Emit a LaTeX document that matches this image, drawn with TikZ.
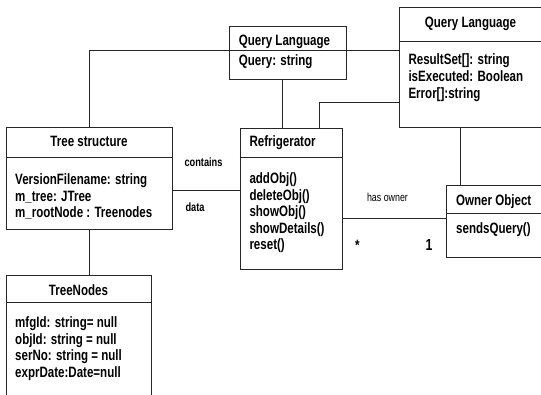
\documentclass[tikz,border=0pt]{standalone}
\usepackage{fontspec}
\setmainfont{Liberation Sans}[FakeStretch=0.77]
\usepackage{tikz}

\begin{document}
\begin{tikzpicture}[x=1pt,y=-1pt,
  umlbox/.style={draw=black!85,line width=0.9pt,rectangle,inner sep=0pt},
  umltext/.style={inner sep=0pt,font=\fontsize{15}{16.5}\selectfont\bfseries},
  umllist/.style={umltext,align=left,anchor=north west},
  linklabel/.style={inner sep=0pt,font=\fontsize{12}{14}\selectfont\bfseries},
  link/.style={draw=black!85,line width=0.9pt}]
\fill[white] (0,0) rectangle (541,394);
\useasboundingbox (0,0) rectangle (541,394);

% Class boxes
\node[umlbox,minimum width=142.7pt,minimum height=120.4pt] (qres) at (470.65,67.5) {};
\node[umlbox,minimum width=116.7pt,minimum height=52.6pt] (qmid) at (287.65,53) {};
\node[umlbox,minimum width=166.3pt,minimum height=101.7pt] (tree) at (89.15,178.15) {};
\node[umlbox,minimum width=102.3pt,minimum height=141pt] (fridge) at (291.15,198.8) {};
\node[umlbox,minimum width=95.5pt,minimum height=72.3pt] (owner) at (494.25,221.15) {};
\node[umlbox,minimum width=145pt,minimum height=122pt] (tnodes) at (78.5,336) {};

% Title separators
\draw[link] ([yshift=-35pt]qres.north west) -- ([yshift=-35pt]qres.north east);
\draw[link] ([yshift=-30.4pt]tree.north west) -- ([yshift=-30.4pt]tree.north east);
\draw[link] ([yshift=-29.4pt]fridge.north west) -- ([yshift=-29.4pt]fridge.north east);
\draw[link] ([yshift=-29.3pt]owner.north west) -- ([yshift=-29.3pt]owner.north east);
\draw[link] ([yshift=-28.3pt]tnodes.north west) -- ([yshift=-28.3pt]tnodes.north east);

% Query Language (right)
\node[umltext,anchor=base] (qrestitle) at (470.5,27) {Query Language};
\node[umllist,font=\fontsize{15}{17}\selectfont\bfseries] (qresattr) at (408.3,52.4) {\strut ResultSet[]: string\\isExecuted: Boolean\\Error[]:string};

% Query Language (middle)
\node[umltext,anchor=base west] (qmidtitle) at (238.7,45.7) {Query Language};
\node[umltext,anchor=base west] (qmidattr) at (238.7,65) {Query: string};

% Tree structure
\node[umltext,anchor=base] (treetitle) at (89,146.7) {Tree structure};
\node[umllist] (treeattr) at (15,173) {\strut VersionFilename: string\\m\_tree: JTree\\m\_rootNode : Treenodes};

% Refrigerator
\node[umltext,anchor=base west] (fridgetitle) at (249.3,146.7) {Refrigerator};
\node[umllist] (fridgeops) at (249.3,172.2) {\strut addObj()\\deleteObj()\\showObj()\\showDetails()\\reset()};

% Owner Object
\node[umltext,anchor=base west] (ownertitle) at (456,205.7) {Owner Object};
\node[umltext,anchor=base west] (ownerops) at (456,233.3) {sendsQuery()};

% TreeNodes
\node[umltext,anchor=base] (tnodestitle) at (78.5,295) {TreeNodes};
\node[umllist] (tnodesattr) at (15,316.2) {\strut mfgId: string= null\\objId: string = null\\serNo: string = null\\exprDate:Date=null};

% Connectors
\draw[link] (tree.north) |- ([yshift=17.5pt]qres.west);
\draw[link] ([xshift=-4.95pt]qmid.south) -- ([xshift=-4.95pt]qmid.south |- fridge.north);
\draw[link] ([xshift=28.15pt]fridge.north) |- ([yshift=-35.2pt]qres.west);
\draw[link] ([xshift=-10.65pt]qres.south) -- ([xshift=-10.65pt]qres.south |- owner.north);
\draw[link] ([yshift=-11.85pt]tree.east) -- ([yshift=-11.85pt]tree.east -| fridge.west);
\draw[link] ([yshift=-19.2pt]fridge.east) -- ([yshift=-19.2pt]fridge.east -| owner.west);
\draw[link] (tree.south) -- (tree.south |- tnodes.north);

% Association labels
\node[linklabel] (lblcontains) at (203.5,162.7) {contains};
\node[linklabel] (lbldata) at (195,207.3) {data};
\node[inner sep=0pt,font=\fontsize{11.5}{13}\selectfont] (lblowner) at (387.5,197.7) {has owner};
\node[umltext] (lblmany) at (357.3,245) {*};
\node[umltext,font=\fontsize{16}{18}\selectfont\bfseries] (lblone) at (429,245.3) {1};
\end{tikzpicture}
\end{document}
